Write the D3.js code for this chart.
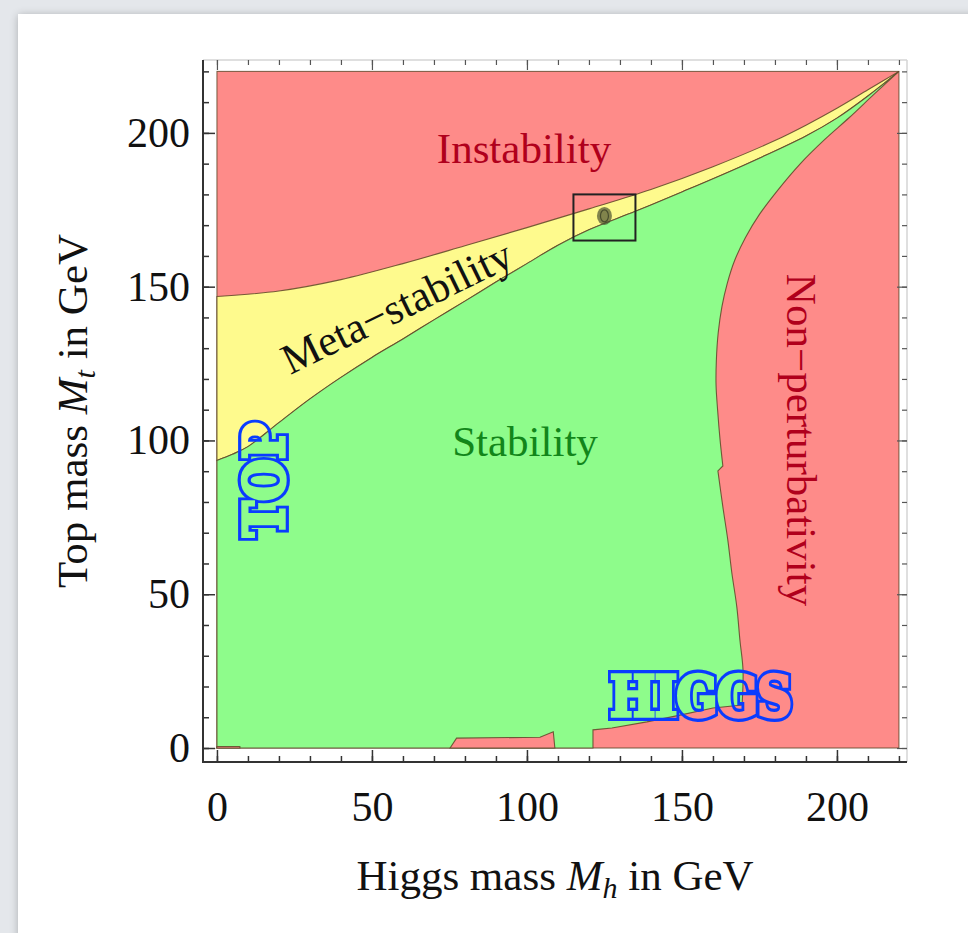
<!DOCTYPE html>
<html>
<head>
<meta charset="utf-8">
<script src="https://cdn.jsdelivr.net/npm/d3@7/dist/d3.min.js"></script>
<style>
  html, body { margin: 0; padding: 0; background: #e4e7eb; }
  svg { display: block; }
</style>
</head>
<body>
<svg id="chart" width="968" height="933"></svg>
<script>
// ---------- DATA (Higgs mass Mh, Top mass Mt), GeV ----------
const xTickLabels = [0, 50, 100, 150, 200];
const yTickLabels = [0, 50, 100, 150, 200];
const minorTicks = d3.range(0, 221, 10);

// boundary: instability / meta-stability
const metaUpper = [[0,146.8],[20,148.6],[40,152.3],[60,157.5],[80,163.3],[100,169.2],[120,175.3],[140,181.6],[160,189],[180,197.5],[190,202.5],[200,208],[210,214],[220,220]];
// boundary: meta-stability / stability
const metaLower = [[0,93.5],[5,95.5],[10,98],[20,105.8],[30,113.5],[40,120.5],[50,127],[60,133],[70,139.2],[80,145.3],[90,151.5],[100,157.5],[110,163.5],[120,168.5],[135,174.5],[150,180.8],[170,189.5],[190,199],[200,204.8],[210,212],[220,220]];
// boundary: stability / non-perturbativity (upper and lower part, with notch)
const nonPertUpper = [[220,220],[212,212.6],[204,205],[196,197.8],[188,189.8],[181,181.5],[175,173.5],[170.5,166],[167,158.5],[164.6,151],[162.9,143.5],[161.7,135],[161.1,126],[161,118],[161.5,110],[162.3,100.2],[163.2,91.7]];
const nonPertLower = [[161.6,90.1],[163.2,78.4],[164.8,67.6],[166.1,56.9],[167.7,45.9],[168.7,35.1],[169.7,25.4],[169.4,14]];
// bottom edge of the stability region near Mt = 0
const stabBottom = [[169.4,14],[160,13],[149.4,10.7],[138.7,8.5],[127.4,6.5],[121.3,5.9],[121.3,0]];
// small unstable patches along Mt = 0
const bumpA = [[75.2,0],[77.3,3.2],[104.2,3.5],[108.5,5.3],[109,0]];
const bumpB = [[0,0],[7.4,0],[7.4,0.5],[0,0.5]];
// measured point and zoom box
const measuredMh = 125, measuredMt = 173;
const boxMh = [115, 135];
const boxMt = [165, 180];
const regionMax = 220;

// ---------- SETUP ----------
const svg = d3.select("#chart");
const x = d3.scaleLinear().domain([-4.5, 222.6]).range([203, 907]);
const y = d3.scaleLinear().domain([-4.55, 223.7]).range([762, 60]);

const COL_RED = "#fe8b89", COL_GREEN = "#8efc8b", COL_YEL = "#fefa8d";
const EDGE = "rgba(95,70,40,0.85)";
const SERIF = "'Liberation Serif', 'Times New Roman', serif";

// page background / panel
const defs = svg.append("defs");
const f = defs.append("filter").attr("id", "sh").attr("x", "-5%").attr("y", "-5%").attr("width", "110%").attr("height", "110%");
f.append("feGaussianBlur").attr("in", "SourceAlpha").attr("stdDeviation", 4).attr("result", "b");
f.append("feOffset").attr("in", "b").attr("dx", 0).attr("dy", 1).attr("result", "o");
f.append("feComponentTransfer").attr("in", "o").attr("result", "o2")
  .append("feFuncA").attr("type", "linear").attr("slope", 0.25);
const fm = f.append("feMerge");
fm.append("feMergeNode").attr("in", "o2");
fm.append("feMergeNode").attr("in", "SourceGraphic");
svg.append("rect").attr("x", 0).attr("y", 0).attr("width", 968).attr("height", 933).attr("fill", "#e4e7eb");
svg.append("rect").attr("x", 18).attr("y", 14).attr("width", 960).attr("height", 930).attr("fill", "#ffffff").attr("filter", "url(#sh)");

const px = d => x(d[0]), py = d => y(d[1]);
const smooth = d3.line().x(px).y(py).curve(d3.curveCatmullRom.alpha(0.5));
const straight = d3.line().x(px).y(py);
const cont = s => s.replace(/^M/, "L");

const g = svg.append("g");

// red background (instability + non-perturbativity)
g.append("rect")
  .attr("x", x(0)).attr("y", y(regionMax))
  .attr("width", x(regionMax) - x(0)).attr("height", y(0) - y(regionMax))
  .attr("fill", COL_RED).attr("stroke", EDGE).attr("stroke-width", 1);

// yellow meta-stability band
const yellowPath = smooth(metaUpper) + cont(smooth(metaLower.slice().reverse())) + "Z";
g.append("path").attr("d", yellowPath).attr("fill", COL_YEL).attr("stroke", EDGE).attr("stroke-width", 1.1);

// green stability region
const greenPath = straight([[0,0],[0,metaLower[0][1]]]) +
  cont(smooth(metaLower)) +
  cont(smooth(nonPertUpper)) +
  cont(smooth(nonPertLower)) +
  cont(straight(stabBottom)) +
  "L" + x(0) + "," + y(0) + "Z";
g.append("path").attr("d", greenPath).attr("fill", COL_GREEN).attr("stroke", EDGE).attr("stroke-width", 1.1);

// small red patches at the bottom
[bumpA, bumpB].forEach(b => {
  g.append("path").attr("d", straight(b) + "Z").attr("fill", COL_RED).attr("stroke", EDGE).attr("stroke-width", 1.1);
});

// measured point and box
g.append("ellipse").attr("cx", x(measuredMh)).attr("cy", y(measuredMt)).attr("rx", 7.5).attr("ry", 9)
  .attr("fill", "rgba(70,75,45,0.68)");
g.append("ellipse").attr("cx", x(measuredMh)).attr("cy", y(measuredMt)).attr("rx", 4).attr("ry", 6)
  .attr("fill", "none").attr("stroke", "rgba(35,40,25,0.6)").attr("stroke-width", 1.2);
g.append("rect").attr("x", x(boxMh[0])).attr("y", y(boxMt[1]))
  .attr("width", x(boxMh[1]) - x(boxMh[0])).attr("height", y(boxMt[0]) - y(boxMt[1]))
  .attr("fill", "none").attr("stroke", "#222").attr("stroke-width", 2);

// ---------- AXES / FRAME ----------
const [x0, x1] = x.range();
const [y0, y1] = y.range(); // y0 bottom, y1 top
svg.append("line").attr("x1", x0).attr("x2", x1).attr("y1", y1).attr("y2", y1).attr("stroke", "#d4d4d4").attr("stroke-width", 1.5);
svg.append("line").attr("x1", x1).attr("x2", x1).attr("y1", y1).attr("y2", y0).attr("stroke", "#d4d4d4").attr("stroke-width", 1.5);
svg.append("line").attr("x1", x0).attr("x2", x0).attr("y1", y1).attr("y2", y0 + 1).attr("stroke", "#333").attr("stroke-width", 2);
svg.append("line").attr("x1", x0 - 1).attr("x2", x1).attr("y1", y0).attr("y2", y0).attr("stroke", "#333").attr("stroke-width", 2);

function axisGroup(axis, tx, ty, color, width) {
  const a = svg.append("g").attr("transform", `translate(${tx},${ty})`).call(axis);
  a.select(".domain").remove();
  a.selectAll(".tick line").attr("stroke", color).attr("stroke-width", width);
  return a;
}
// bottom
axisGroup(d3.axisBottom(x).tickValues(minorTicks).tickSize(-6).tickFormat(""), 0, y0, "#333", 1.5);
const xb = axisGroup(d3.axisBottom(x).tickValues(xTickLabels).tickSize(-12).tickPadding(29).tickFormat(d3.format("d")), 0, y0, "#333", 1.5);
// left
axisGroup(d3.axisLeft(y).tickValues(minorTicks).tickSize(-6).tickFormat(""), x0, 0, "#333", 1.5);
const yl = axisGroup(d3.axisLeft(y).tickValues(yTickLabels).tickSize(-12).tickPadding(13).tickFormat(d3.format("d")), x0, 0, "#333", 1.5);
// top
axisGroup(d3.axisTop(x).tickValues(minorTicks).tickSize(-5).tickFormat(""), 0, y1, "#555", 1.2);
axisGroup(d3.axisTop(x).tickValues(xTickLabels).tickSize(-10).tickFormat(""), 0, y1, "#555", 1.2);
// right
axisGroup(d3.axisRight(y).tickValues(minorTicks).tickSize(-5).tickFormat(""), x1, 0, "#555", 1.2);
axisGroup(d3.axisRight(y).tickValues(yTickLabels).tickSize(-10).tickFormat(""), x1, 0, "#555", 1.2);

[xb, yl].forEach(a => a.selectAll("text").attr("font-family", SERIF).attr("font-size", 42).attr("fill", "#111"));

// axis titles
const xt = svg.append("text").attr("x", 555).attr("y", 890).attr("text-anchor", "middle")
  .attr("font-family", SERIF).attr("font-size", 43).attr("fill", "#111");
xt.append("tspan").text("Higgs mass ");
xt.append("tspan").attr("font-style", "italic").text("M");
xt.append("tspan").attr("font-style", "italic").attr("font-size", 30).attr("dy", 8).text("h");
xt.append("tspan").attr("dy", -8).text(" in GeV");

const yt = svg.append("text").attr("transform", "translate(87,411) rotate(-90)").attr("text-anchor", "middle")
  .attr("font-family", SERIF).attr("font-size", 43).attr("fill", "#111");
yt.append("tspan").text("Top mass ");
yt.append("tspan").attr("font-style", "italic").text("M");
yt.append("tspan").attr("font-style", "italic").attr("font-size", 30).attr("dy", 8).text("t");
yt.append("tspan").attr("dy", -8).text(" in GeV");

// ---------- REGION LABELS ----------
svg.append("text").attr("x", 524).attr("y", 163).attr("text-anchor", "middle")
  .attr("font-family", SERIF).attr("font-size", 43).attr("fill", "#b0001c").text("Instability");
svg.append("text").attr("x", 525).attr("y", 456).attr("text-anchor", "middle")
  .attr("font-family", SERIF).attr("font-size", 43).attr("fill", "#12861a").text("Stability");
svg.append("text").attr("transform", "translate(403,320) rotate(-26)").attr("text-anchor", "middle")
  .attr("font-family", SERIF).attr("font-size", 43).attr("fill", "#111").text("Meta\u2212stability");
svg.append("text").attr("transform", "translate(787,440) rotate(90)").attr("text-anchor", "middle")
  .attr("font-family", SERIF).attr("font-size", 43).attr("fill", "#b0001c").text("Non\u2212perturbativity");

// ---------- outlined "TOP" and "HIGGS" (hollow letters via mask) ----------
const OUT = "'DejaVu Serif', serif";
const wordSpecs = [
  { text: "TOP", transform: "translate(284,480) rotate(-90) scale(1,1.15)", size: 48, len: 114 },
  { text: "HIGGS", transform: "translate(701,716) scale(1,1.15)", size: 48, len: 182 }
];
const mask = defs.append("mask").attr("id", "outlineMask")
  .attr("maskUnits", "userSpaceOnUse").attr("x", 0).attr("y", 0).attr("width", 968).attr("height", 933);
function addWord(sel, spec, color, sw) {
  sel.append("text").attr("transform", spec.transform).attr("text-anchor", "middle")
    .attr("font-family", OUT).attr("font-weight", "bold").attr("font-size", spec.size)
    .attr("textLength", spec.len).attr("lengthAdjust", "spacing")
    .attr("fill", color).attr("stroke", color).attr("stroke-width", sw)
    .attr("stroke-linejoin", "miter").text(spec.text);
}
wordSpecs.forEach(s => addWord(mask, s, "white", 8.5));
wordSpecs.forEach(s => addWord(mask, s, "black", 3));
svg.append("rect").attr("x", 0).attr("y", 0).attr("width", 968).attr("height", 933)
  .attr("fill", "#0a3cff").attr("mask", "url(#outlineMask)");
</script>
</body>
</html>
